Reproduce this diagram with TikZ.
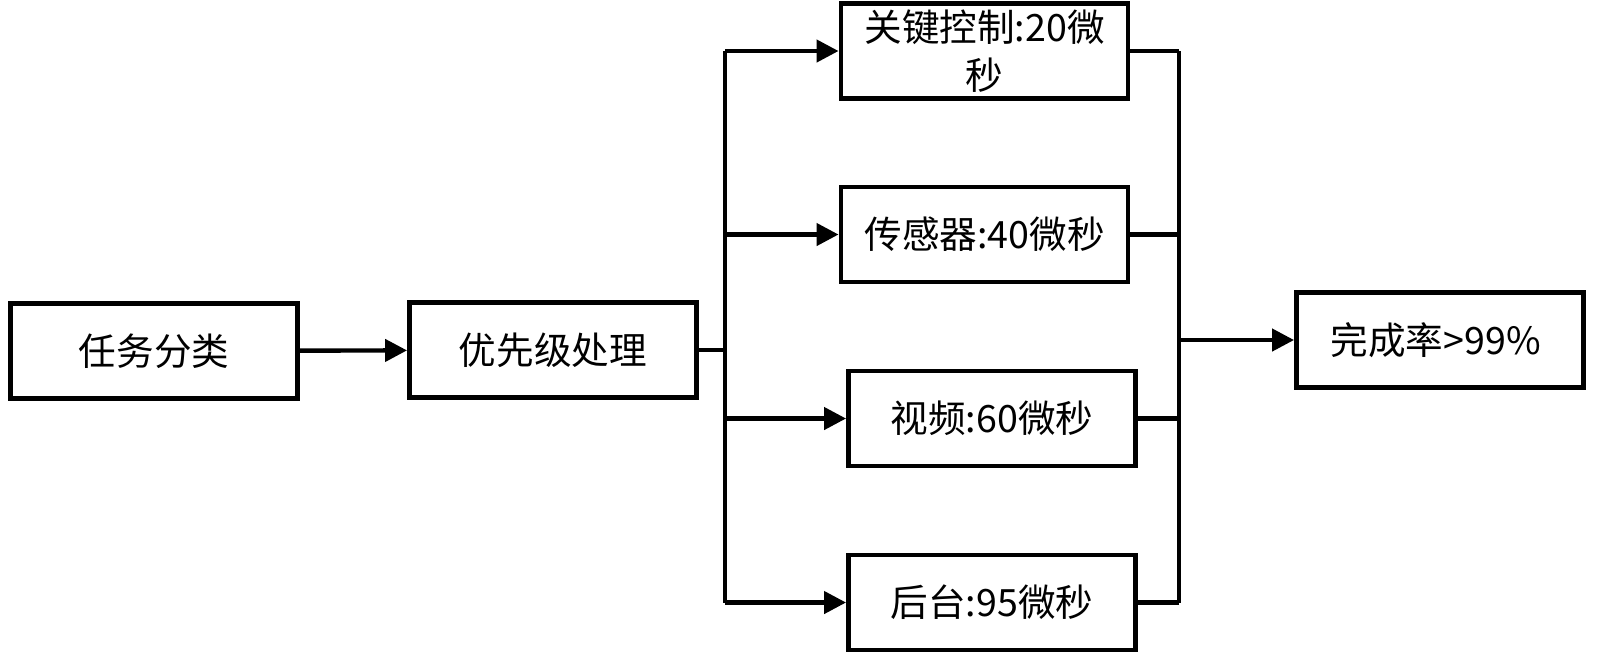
\documentclass[tikz,border=0pt]{standalone}
\usepackage{fontspec}
\setmainfont{Noto Sans CJK SC}
\usetikzlibrary{arrows.meta}

\def\busl{7.25}
\def\busr{11.79}

\begin{document}
\begin{tikzpicture}
    \tikzstyle{box}=[draw, line width=1.4pt, minimum width=2.87cm, minimum height=0.95cm,
        align=center, inner sep=0pt, font=\fontsize{10.7}{13.6}\selectfont]
    \tikzstyle{line}=[line width=1.25pt]
    \tikzstyle{arrow}=[line, -{Triangle[length=2.2mm,width=2.2mm]}]
    \useasboundingbox (0,0) rectangle (16,-6.54);
    \foreach \n/\x/\y/\t in { task/1.54/-3.51/任务分类, prio/5.53/-3.50/优先级处理,
    ctrl/9.845/-0.51/关键控制:20微\\秒, sens/9.845/-2.345/传感器:40微秒,
    video/9.92/-4.185/视频:60微秒, bg/9.92/-6.025/后台:95微秒, done/14.40/-3.40/完成率>99\% }
        \node[box] (\n) at (\x,\y) {\t};
    \coordinate (lt) at (\busl,-0.51);
    \coordinate (lb) at (\busl,-6.025);
    \coordinate (rt) at (\busr,-0.51);
    \coordinate (rb) at (\busr,-6.025);
    \draw[arrow] (task) -- (prio);
    \draw[line] (prio.east) -- (lt |- prio.east);
    \draw[line] (lt) -- (lb);
    \foreach \n in {ctrl, sens, video, bg}
        \draw[arrow] (lt |- \n.west) -- (\n.west);
    \draw[line] (rt) -- (rb);
    \foreach \n in {ctrl, sens, video, bg}
        \draw[line] (\n.east) -- (rt |- \n.east);
    \draw[arrow] (rt |- done.west) -- (done.west);
\end{tikzpicture}
\end{document}
